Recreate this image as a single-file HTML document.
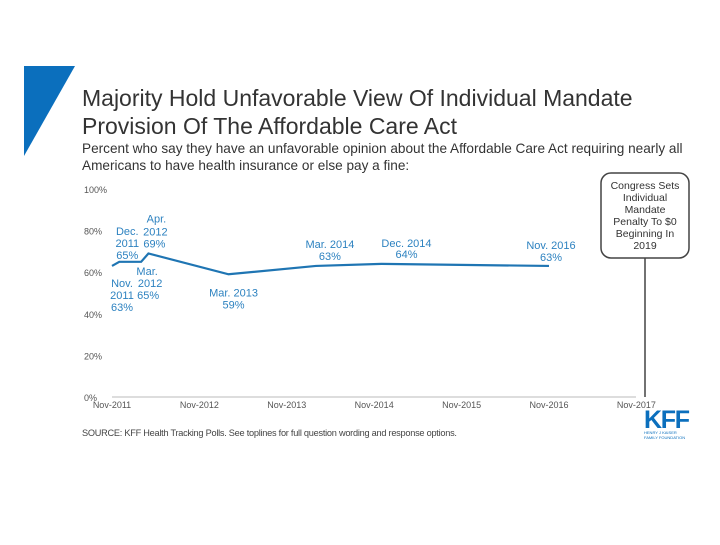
<!DOCTYPE html>
<html><head><meta charset="utf-8"><style>
body{margin:0;background:#fff;width:720px;height:540px;overflow:hidden;font-family:"Liberation Sans",sans-serif}
</style></head><body>
<svg width="720" height="540" xmlns="http://www.w3.org/2000/svg" font-family="Liberation Sans, sans-serif">
<polygon points="24,66 75,66 24,156" fill="#0b6fbd"/>
<text x="82" y="106" font-size="23" fill="#333">Majority Hold Unfavorable View Of Individual Mandate</text>
<text x="82" y="134" font-size="23" fill="#333">Provision Of The Affordable Care Act</text>
<text x="82" y="153" font-size="13.6" fill="#333">Percent who say they have an unfavorable opinion about the Affordable Care Act requiring nearly all</text>
<text x="82" y="170" font-size="13.6" fill="#333">Americans to have health insurance or else pay a fine:</text>
<g id="yaxis"></g>
<g id="xaxis"></g>
<line x1="112" y1="397" x2="636" y2="397" stroke="#bbb" stroke-width="1"/>
<g id="plot"></g>
<line x1="645" y1="258" x2="645" y2="397" stroke="#444" stroke-width="1.5"/>
<rect x="601" y="173" width="88" height="85" rx="10" fill="#fff" stroke="#444" stroke-width="1.5"/>
<g font-size="10.5" fill="#333" text-anchor="middle">
<text x="645" y="189">Congress Sets</text><text x="645" y="201">Individual</text><text x="645" y="213">Mandate</text><text x="645" y="225">Penalty To $0</text><text x="645" y="237">Beginning In</text><text x="645" y="249">2019</text></g>
<text x="82" y="436" font-size="9.2" fill="#444" textLength="375">SOURCE: KFF Health Tracking Polls. See toplines for full question wording and response options.</text>
<text x="644" y="428" font-size="25" font-weight="bold" fill="#0b6fbd" textLength="46">KFF</text>
<text x="644" y="434" font-size="4" fill="#0b6fbd">HENRY J KAISER</text>
<text x="644" y="439" font-size="4" fill="#0b6fbd">FAMILY FOUNDATION</text>
</svg>
<script>
const months=[0,1,4,5,16,28,37,60];
const values=[63,65,65,69,59,63,64,63];
const yTicks=[0,20,40,60,80,100];
const xTickLabels=["Nov-2011","Nov-2012","Nov-2013","Nov-2014","Nov-2015","Nov-2016","Nov-2017"];
const labelLines=[["Nov.","2011","63%"],["Dec.","2011","65%"],["Mar.","2012","65%"],["Apr.","2012","69%"],["Mar. 2013","59%"],["Mar. 2014","63%"],["Dec. 2014","64%"],["Nov. 2016","63%"]];
const ns="http://www.w3.org/2000/svg";
const X=m=>112+m*87.4/12, Y=v=>397-v*2.08;
const svg=document.querySelector('svg');
function mk(t,a,p){const e=document.createElementNS(ns,t);for(const k in a)e.setAttribute(k,a[k]);(p||svg).appendChild(e);return e;}
const ya=document.getElementById('yaxis'),xa=document.getElementById('xaxis'),pl=document.getElementById('plot');
yTicks.forEach(v=>{const t=mk('text',{x:84,y:Y(v)+4,'font-size':9,fill:'#555'},ya);t.textContent=v+'%';

});
xTickLabels.forEach((s,i)=>{const t=mk('text',{x:X(i*12),y:408,'font-size':9,fill:'#555','text-anchor':'middle'},xa);t.textContent=s;

});
const line=mk('polyline',{points:months.map((m,i)=>X(m)+','+Y(values[i])).join(' '),fill:'none',stroke:'#1f75b3','stroke-width':2.2},pl);


// per-line offsets [dx,dy] relative to the data point (layout only)
const off=[
 [[10,21],[10,33],[10,45]],
 [[8,-27],[8,-15],[8,-3]],
 [[6,13],[9,25],[7,37]],
 [[8,-31],[7,-18],[6,-6]],
 [[5,22],[5,34]],
 [[14,-18],[14,-6]],
 [[25,-17],[25,-6]],
 [[2,-17],[2,-5]]];
labelLines.forEach((ls,i)=>{const px=X(months[i]),py=Y(values[i]);
const t=mk('text',{'font-size':11,fill:'#2d82c0','text-anchor':'middle'},pl);
ls.forEach((s,j)=>{const sp=mk('tspan',{x:px+off[i][j][0],y:py+off[i][j][1]},t);sp.textContent=s;});

});
</script>
</body></html>
